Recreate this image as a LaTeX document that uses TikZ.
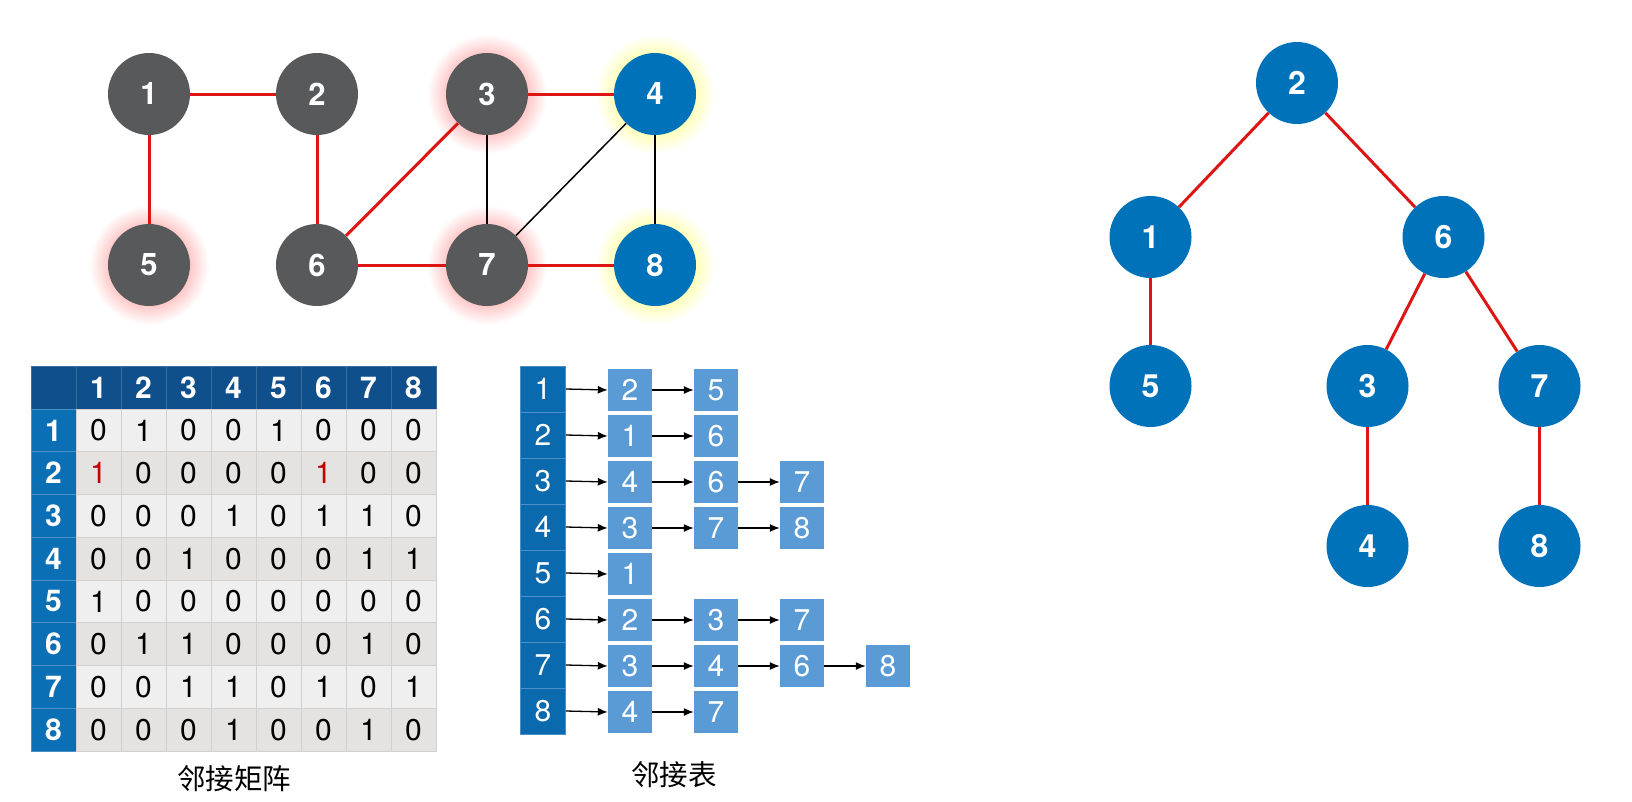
\documentclass[tikz,border=0pt]{standalone}
\usepackage{fontspec}
\setmainfont{TeX Gyre Heros}
\newfontfamily\cjk{Noto Sans CJK SC}
\usepackage{tikz}
\usetikzlibrary{arrows.meta}
\usetikzlibrary{backgrounds}
\usetikzlibrary{positioning}

\definecolor{nodegray}{HTML}{58595B}
\definecolor{nodeblue}{HTML}{0072B9}
\definecolor{edgered}{HTML}{DD1515}
\definecolor{headblue}{HTML}{0E4F8C}
\definecolor{headline}{HTML}{3A6E9E}
\definecolor{sideblue}{HTML}{0B6FB5}
\definecolor{sideline}{HTML}{4A8FC6}
\definecolor{listblue}{HTML}{0B6AAE}
\definecolor{boxblue}{HTML}{5B9BD5}
\definecolor{cellA}{HTML}{EFEFEF}
\definecolor{cellB}{HTML}{E4E3E1}
\definecolor{gridgray}{HTML}{D0D0D0}
\definecolor{onered}{HTML}{C40000}

\pgfdeclareradialshading{glowred}{\pgfpoint{0bp}{0bp}}{%
  color(0bp)=(red!24); color(16bp)=(red!24); color(25bp)=(white); color(50bp)=(white)}
\pgfdeclareradialshading{glowyellow}{\pgfpoint{0bp}{0bp}}{%
  color(0bp)=(yellow!30); color(16bp)=(yellow!30); color(25bp)=(white); color(50bp)=(white)}

\newcommand{\one}{\textcolor{onered}{1}}

\tikzset{
  vertex/.style={circle, fill=nodegray, text=white, minimum size=82pt, inner sep=0pt,
    font=\fontsize{31}{31}\selectfont\bfseries},
  blue vertex/.style={vertex, fill=nodeblue},
  treenode/.style={circle, fill=nodeblue, text=white, minimum size=82pt, inner sep=0pt,
    font=\fontsize{32}{32}\selectfont\bfseries},
  redline/.style={draw=edgered, line width=3pt},
  thinline/.style={draw=black, line width=1.5pt},
  headcell/.style={rectangle, fill=headblue, draw=headline, line width=0.8pt, text=white,
    minimum width=45pt, minimum height=43pt, inner sep=0pt,
    font=\fontsize{30}{30}\selectfont\bfseries},
  sidecell/.style={rectangle, fill=sideblue, draw=sideline, line width=0.8pt, text=white,
    minimum width=45pt, minimum height=42.75pt, inner sep=0pt,
    font=\fontsize{30}{30}\selectfont\bfseries},
  cell/.style={rectangle, draw=gridgray, line width=0.8pt,
    minimum width=45pt, minimum height=42.75pt, inner sep=0pt,
    font=\fontsize{30}{30}\selectfont},
  listhead/.style={rectangle, fill=listblue, draw=sideline, line width=0.8pt, text=white,
    minimum width=45pt, minimum height=46pt, inner sep=0pt,
    font=\fontsize{30}{30}\selectfont},
  listbox/.style={rectangle, fill=boxblue, text=white,
    minimum width=44pt, minimum height=42pt, inner sep=0pt,
    font=\fontsize{30}{30}\selectfont},
  link/.style={-{Latex[length=10pt,width=8pt]}, line width=1.3pt},
  caption/.style={font=\fontsize{28.5}{28.5}\selectfont\cjk}
}

\begin{document}
\begin{tikzpicture}[x=1pt, y=-1pt,
  level 1/.style={sibling distance=293pt, level distance=154pt, xshift=7pt},
  level 2/.style={sibling distance=172pt, level distance=149pt},
  level 3/.style={level distance=160pt},
  edge from parent/.style={redline}]
  \useasboundingbox (0,0) rectangle (1632,801);

  % graph
  \node[vertex] (g1) at (149,94) {1};
  \node[vertex] (g2) at (317,94) {2};
  \node[vertex] (g3) at (487,94) {3};
  \node[blue vertex] (g4) at (655,94) {4};
  \node[vertex] (g5) at (149,265) {5};
  \node[vertex] (g6) at (317,265) {6};
  \node[vertex] (g7) at (487,265) {7};
  \node[blue vertex] (g8) at (655,265) {8};

  \draw[redline] (g1) -- (g2);
  \draw[redline] (g1) -- (g5);
  \draw[redline] (g2) -- (g6);
  \draw[redline] (g6) -- (g3);
  \draw[redline] (g6) -- (g7);
  \draw[redline] (g3) -- (g4);
  \draw[redline] (g7) -- (g8);
  \draw[thinline] (g3) -- (g7);
  \draw[thinline] (g4) -- (g7);
  \draw[thinline] (g4) -- (g8);

  \begin{scope}[on background layer]
    \foreach \n in {g3,g5,g7}
      \shade[shading=glowred] (\n) circle (60pt);
    \foreach \n in {g4,g8}
      \shade[shading=glowyellow] (\n) circle (60pt);
  \end{scope}

  % adjacency matrix
  \node[headcell] (m00) at (53.5,387.5) {};
  \foreach \c in {1,...,8}
    \node[headcell] (m0\c) at ({76+45*(\c-0.5)},387.5) {\c};
  \foreach \row [count=\r] in {{0,1,0,0,1,0,0,0},{\one,0,0,0,0,\one,0,0},
      {0,0,0,1,0,1,1,0},{0,0,1,0,0,0,1,1},{1,0,0,0,0,0,0,0},
      {0,1,1,0,0,0,1,0},{0,0,1,1,0,1,0,1},{0,0,0,1,0,0,1,0}}{
    \ifodd\r \def\rowfill{cellA}\else \def\rowfill{cellB}\fi
    \node[sidecell] (m\r0) at (53.5,{409+42.75*(\r-0.5)}) {\r};
    \foreach \v [count=\c] in \row
      \node[cell, fill=\rowfill] (m\r\c) at ({76+45*(\c-0.5)},{409+42.75*(\r-0.5)}) {\v};
  }
  \node[caption] (matcap) at (234,779) {邻接矩阵};

  % adjacency list
  \foreach \i in {1,...,8}
    \node[listhead] (a\i) at (543,{366+46*(\i-0.5)}) {\i};
  \foreach \list [count=\i] in {{2,5},{1,6},{4,6,7},{3,7,8},{1},{2,3,7},{3,4,6,8},{4,7}}{
    \foreach \v [count=\k] in \list {
      \pgfmathtruncatemacro\p{\k-1}
      \node[listbox] (b\i\k) at ({630+86*(\k-1)},{367+46*(\i-0.5)}) {\v};
      \ifnum\k=1 \def\from{a\i}\else \def\from{b\i\p}\fi
      \draw[link] (\from.east) -- (b\i\k.west);
    }
  }
  \node[caption] (listcap) at (674,775) {邻接表};

  % tree
  \node[treenode] (t2) at (1297,83) {2}
    child {node[treenode] (t1) {1}
      child {node[treenode] (t5) {5}}
    }
    child {node[treenode] (t6) {6}
      child[xshift=10pt] {node[treenode] (t3) {3}
        child {node[treenode] (t4) {4}}
      }
      child[xshift=10pt] {node[treenode] (t7) {7}
        child {node[treenode] (t8) {8}}
      }
    };
\end{tikzpicture}
\end{document}
